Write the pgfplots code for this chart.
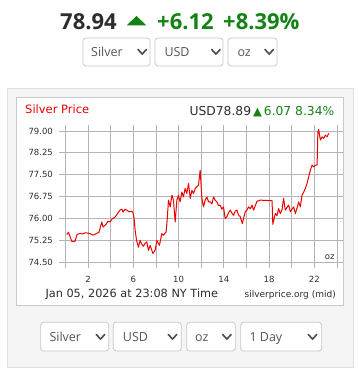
\documentclass[border=0pt]{standalone}
\usepackage{pgfplots}
\pgfplotsset{compat=1.18}
\usepackage{fontspec}
\setmainfont{DejaVu Sans}
\newfontfamily\opensans{Open Sans}
\definecolor{upgreen}{RGB}{20,130,20}
\definecolor{darktxt}{RGB}{45,45,45}
\definecolor{ddtxt}{RGB}{85,85,85}
\definecolor{panelbg}{RGB}{245,245,245}
\definecolor{panelbd}{RGB}{225,225,225}
\definecolor{ddbd}{RGB}{200,200,200}
\definecolor{gridc}{RGB}{180,180,180}
\definecolor{redline}{RGB}{235,0,0}
\newcommand{\dropdown}[7]{%
  \draw[ddbd, fill=white, rounded corners=3pt, line width=0.8pt] (#1pt,{379pt-#3pt}) rectangle (#2pt,{379pt-#4pt});
  \node[anchor=base west, inner sep=0, text=ddtxt, font=\opensans\fontsize{12.5}{14}\selectfont] at (#5pt,{379pt-#7pt}) {#6};
}
\newcommand{\chev}[2]{%
  \draw[darktxt!85, line width=1.6pt, line cap=round, line join=round] (#1pt,{379pt-#2pt}) -- ({#1pt+4.2pt},{379pt-#2pt-4.6pt}) -- ({#1pt+8.4pt},{379pt-#2pt});
}
\begin{document}
\begin{tikzpicture}[x=1pt,y=1pt]
% page
\fill[white] (0pt,0pt) rectangle (357pt,379pt);
% top price
\node[anchor=base west, inner sep=0, text=darktxt, font=\opensans\bfseries\fontsize{22}{24}\selectfont] at (60pt,349pt) {78.94};
\fill[upgreen] (126.5pt,353.5pt) -- (146.5pt,353.5pt) -- (136.5pt,363pt) -- cycle;
\node[anchor=base west, inner sep=0, text=upgreen, font=\opensans\bfseries\fontsize{22}{24}\selectfont] at (157pt,349pt) {+6.12};
\node[anchor=base west, inner sep=0, text=upgreen, font=\opensans\bfseries\fontsize{22}{24}\selectfont] at (223pt,349pt) {+8.39\%};
% top dropdowns
\dropdown{83}{150}{38}{66}{91}{Silver}{57}
\chev{138}{49.5}
\dropdown{155}{223}{38}{66}{164.3}{USD}{57}
\chev{211.7}{49.5}
\dropdown{228}{277}{38}{66}{237.3}{oz}{57}
\chev{265}{49.5}
% panel
\draw[panelbd, fill=panelbg, line width=0.8pt] (7pt,{379pt-88pt}) rectangle (353pt,{379pt-367pt});
\draw[panelbd!90!black, fill=white, line width=0.8pt] (16pt,{379pt-97pt}) rectangle (343.5pt,{379pt-305pt});
% chart header
\node[anchor=base west, inner sep=0, text=redline, font=\fontsize{11.5}{13}\selectfont] at (25pt,{379pt-114pt}) {Silver Price};
\node[anchor=base east, inner sep=0, font=\fontsize{12.3}{14}\selectfont] at (334.5pt,{379pt-116pt}) {\textcolor{darktxt}{USD78.89}\hspace{2pt}\textcolor{upgreen}{\fontsize{11.5}{12}\selectfont ▲}\hspace{2pt}\textcolor{upgreen}{6.07 8.34\%}};
% footer texts
\node[anchor=base west, inner sep=0, text=darktxt, font=\fontsize{11.3}{13}\selectfont] at (45.3pt,{379pt-297.3pt}) {Jan 05, 2026 at 23:08 NY Time};
\node[anchor=base east, inner sep=0, text=darktxt, font=\fontsize{9}{11}\selectfont] at (336pt,{379pt-297.3pt}) {silverprice.org (mid)};
% chart
\begin{axis}[
  at={(65.4pt,116.7pt)}, anchor=south west,
  scale only axis, width=271.6pt, height=131.3pt,
  xmin=0, xmax=24, ymin=74.5, ymax=79,
  xtick={0,2,...,24},
  xticklabels={,2,,6,,10,,14,,18,,22,},
  ytick={74.5,75.25,76,76.75,77.5,78.25,79},
  yticklabel style={xshift=-3pt, /pgf/number format/.cd, fixed, fixed zerofill, precision=2},
  /pgf/number format/assume math mode=true,
  grid=major,
  grid style={gridc, line width=0.8pt},
  axis line style={gridc, line width=0.8pt},
  tick style={gridc, line width=0.8pt},
  tick align=outside,
  major tick length=6pt,
  tick label style={font=\fontsize{8.5}{10}\selectfont, text=darktxt},
  xticklabel style={yshift=-4pt},
  clip=false,
]
\addplot[redline, line width=1pt, line join=round] coordinates {
(0.12,75.45)(0.27,75.53)(0.41,75.39)(0.56,75.22)(0.85,75.22)(1.03,75.45)
(1.29,75.49)(1.50,75.47)(1.73,75.51)(2.00,75.50)(2.18,75.48)(2.44,75.43)(2.77,75.49)(2.97,75.53)
(3.21,75.88)(3.33,75.71)(3.59,75.80)(3.77,75.91)(3.95,75.88)(4.12,75.98)
(4.39,76.05)(4.57,76.15)(4.83,76.29)(5.00,76.32)(5.10,76.22)(5.27,76.32)
(5.42,76.29)(5.63,76.23)(5.81,76.25)(5.96,76.22)(6.07,76.01)(6.16,75.60)
(6.29,75.25)(6.45,75.02)(6.60,75.25)(6.75,75.12)(6.89,75.05)(7.04,75.15)
(7.19,75.20)(7.34,74.91)(7.49,75.08)(7.73,74.80)(7.94,74.93)(8.08,75.25)
(8.31,75.08)(8.52,75.48)(8.66,75.43)(8.90,75.54)(8.99,75.94)(9.11,76.63)
(9.26,76.40)(9.41,76.80)(9.55,76.63)(9.70,75.88)(9.85,76.63)(9.99,76.80)
(10.14,76.57)(10.29,76.91)(10.43,76.74)(10.58,77.03)(10.73,76.86)(10.88,77.20)
(11.03,76.69)(11.18,76.97)(11.32,76.86)(11.47,77.03)(11.62,77.09)(11.76,77.14)
(11.91,77.66)(12.06,76.69)(12.20,76.40)(12.35,76.63)(12.50,76.74)(12.65,76.57)
(12.80,76.57)(12.95,76.50)(13.09,76.74)(13.25,76.62)(13.39,76.57)(13.52,76.44)(13.68,76.46)(13.82,76.32)(13.97,76.40)(14.12,76.00)
(14.27,76.06)(14.42,76.20)(14.57,76.29)(14.72,76.18)(14.86,76.11)(15.00,76.25)(15.16,76.29)(15.30,76.12)(15.45,76.06)(15.63,75.83)
(15.89,76.23)(16.05,76.30)(16.19,76.40)(16.35,76.33)(16.49,76.46)(16.63,76.29)(16.93,76.59)(17.22,76.63)
(18.26,76.61)(18.33,75.80)(18.55,76.17)(18.70,76.10)(18.84,76.34)(18.99,76.17)(19.14,76.30)(19.28,76.69)
(19.43,76.29)(19.58,76.38)(19.73,76.46)(19.88,76.23)(20.03,76.33)(20.17,76.40)(20.32,76.17)(20.46,76.35)(20.61,76.57)
(20.76,76.40)(20.91,76.80)(21.05,76.90)(21.20,77.03)(21.35,77.20)(21.50,77.43)(21.65,77.66)(21.80,77.83)
(21.94,77.77)(22.09,77.83)(22.24,77.83)(22.31,78.98)(22.38,79.05)(22.53,78.69)
(22.68,78.80)(22.82,78.75)(22.97,78.86)(23.12,78.80)(23.27,78.92)
};
\node[anchor=south east, inner sep=0, text=darktxt, font=\fontsize{8.5}{10}\selectfont] at (axis cs:23.8,74.58) {oz};
\end{axis}
% bottom dropdowns
\dropdown{40.7}{108.7}{322.3}{351}{49.3}{Silver}{341.7}
\chev{96.3}{334.5}
\dropdown{113.3}{181.3}{322.3}{351}{122.7}{USD}{341.7}
\chev{168.3}{334.5}
\dropdown{186.7}{235.3}{322.3}{351}{195}{oz}{341.7}
\chev{222.7}{334.5}
\dropdown{240.7}{321.7}{322.3}{351}{249.3}{1 Day}{341.7}
\chev{308.3}{334.5}
\end{tikzpicture}
\end{document}
